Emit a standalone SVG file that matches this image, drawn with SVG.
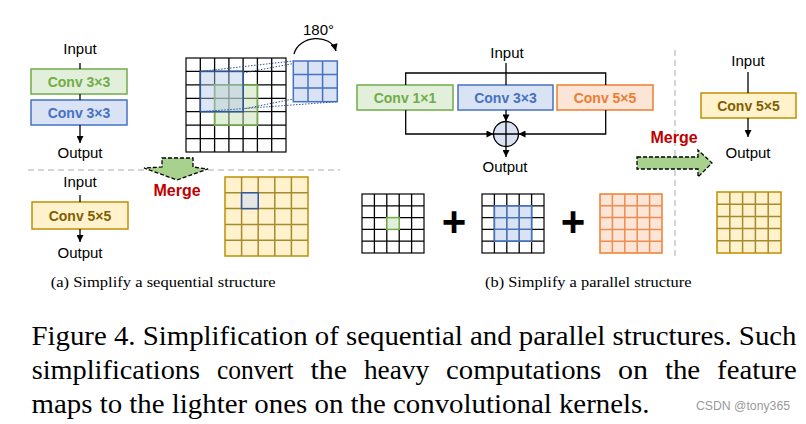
<svg xmlns="http://www.w3.org/2000/svg" width="806" height="424" viewBox="0 0 806 424">
<style>
.lbl{font-family:"Liberation Sans",Arial,sans-serif;font-size:15px;fill:#000;text-anchor:middle}
.conv{font-family:"Liberation Sans",Arial,sans-serif;font-size:14px;font-weight:bold;text-anchor:middle}
.merge{font-family:"Liberation Sans",Arial,sans-serif;font-size:16px;font-weight:bold;fill:#c00000;text-anchor:middle}
.cap{font-family:"Liberation Serif","Times New Roman",serif;font-size:15px;fill:#000}
.fig{font-family:"Liberation Serif","Times New Roman",serif;font-size:27px;fill:#000}
.ln{stroke:#000;stroke-width:1.3;fill:none}
.g{fill:#e2efda;stroke:#70ad47;stroke-width:1.5}
.b{fill:#dae3f3;stroke:#4472c4;stroke-width:1.5}
.o{fill:#fbe5d6;stroke:#ed7d31;stroke-width:1.5}
.y{fill:#fff2cc;stroke:#bf9000;stroke-width:1.5}
.gt{fill:#70ad47}.bt{fill:#4472c4}.ot{fill:#ed7d31}.yt{fill:#7f6000}
.sep{stroke:#c8c8c8;stroke-width:1.5;stroke-dasharray:6 4;fill:none}
.marr{fill:#a9d18e;stroke:#000;stroke-width:1.3;stroke-dasharray:4 2}
.grid{fill:#fff;stroke:#000;stroke-width:1.2}
</style>
<defs>
<marker id="ah" viewBox="0 0 10 10" refX="10" refY="5" markerWidth="8" markerHeight="7" markerUnits="userSpaceOnUse" orient="auto"><path d="M0,0 L10,5 L0,10 z" fill="#000"/></marker>
</defs>

<!-- separators -->
<g id="separators">
<line class="sep" x1="28" y1="170" x2="340" y2="170"/>
<line class="sep" x1="675" y1="50" x2="675" y2="257"/>
</g>

<!-- (a) sequential structure -->
<g id="a-input1"><text class="lbl" x="80" y="54">Input</text></g>
<g id="a-conv3-green"><rect class="g" x="31" y="69" width="96" height="25"/><text class="conv gt" x="79" y="86.5">Conv 3×3</text></g>
<g id="a-conv3-blue"><rect class="b" x="31" y="100" width="96" height="25"/><text class="conv bt" x="79" y="117.5">Conv 3×3</text></g>
<g id="a-output1"><text class="lbl" x="80" y="158">Output</text></g>
<g id="a-input2"><text class="lbl" x="80" y="187">Input</text></g>
<g id="a-conv5"><rect class="y" x="32" y="202" width="96" height="27"/><text class="conv yt" x="80" y="220.5">Conv 5×5</text></g>
<g id="a-output2"><text class="lbl" x="80" y="258">Output</text></g>

<g id="a-bigmap">
<rect class="grid" x="186" y="58" width="100" height="94"/>
<path class="ln" stroke-width="1.2" d="M200.3,58V152M214.6,58V152M228.9,58V152M243.1,58V152M257.4,58V152M271.7,58V152M186,71.4H286M186,84.9H286M186,98.3H286M186,111.7H286M186,125.1H286M186,138.6H286"/>
<rect x="214.6" y="84.9" width="42.9" height="40.3" fill="#c5e0b4" fill-opacity="0.5" stroke="#70ad47" stroke-width="1.5"/>
<rect x="200.3" y="71.4" width="42.9" height="40.3" fill="#b4c7e7" fill-opacity="0.45" stroke="#2f5597" stroke-width="1.6"/>
</g>
<g id="a-kernel">
<rect class="b" x="293.3" y="61" width="44" height="40.7"/>
<path d="M308,61V101.7M322.6,61V101.7M293.3,74.6H337.3M293.3,88.1H337.3" stroke="#4472c4" stroke-width="1.5" fill="none"/>
<path d="M200.3,71.4L293.3,61M243.2,73L293.3,63.5M200.3,111.7L337.3,101.7M243.2,109L293.3,99" stroke="#2f5597" stroke-width="1" stroke-dasharray="1.5 1.5" fill="none"/>
</g>
<g id="a-rotate">
<path class="ln" d="M294,54 C299,35 331,33 336,51" marker-end="url(#ah)"/>
<text class="lbl" x="318.5" y="35">180°</text>
</g>
<g id="a-merge">
<polygon class="marr" points="162,158 193,158 193,167 208,169 177,180 144,168 162,167"/>
<text class="merge" x="177" y="196">Merge</text>
</g>
<g id="a-mergedmap">
<rect class="y" x="225" y="177" width="83" height="79"/>
<path d="M241.6,177V256M258.2,177V256M274.8,177V256M291.4,177V256M225,192.8H308M225,208.6H308M225,224.4H308M225,240.2H308" stroke="#a88a2e" stroke-width="1.5" fill="none"/>
<rect x="241.6" y="192.8" width="16.6" height="15.8" fill="#e7e6e6" stroke="#2f5597" stroke-width="1.5"/>
</g>

<!-- (b) parallel structure -->
<g id="b-input"><text class="lbl" x="507" y="58">Input</text></g>
<g id="b-conv1"><rect class="g" x="357" y="85" width="96" height="25"/><text class="conv gt" x="405" y="102.5">Conv 1×1</text></g>
<g id="b-conv3"><rect class="b" x="458" y="85" width="95" height="25"/><text class="conv bt" x="505.5" y="102.5">Conv 3×3</text></g>
<g id="b-conv5"><rect class="o" x="557" y="85" width="96" height="25"/><text class="conv ot" x="605" y="102.5">Conv 5×5</text></g>
<g id="b-add">
<circle cx="506" cy="134" r="12.5" fill="#dae3f3" stroke="#000" stroke-width="1.3"/>
<path class="ln" d="M493.5,134H518.5M506,121.5V146.5"/>
</g>
<g id="b-output"><text class="lbl" x="505" y="172">Output</text></g>
<g id="b-map1">
<rect class="grid" x="362" y="194" width="62" height="59"/>
<path class="ln" stroke-width="1.2" d="M374.4,194V253M386.8,194V253M399.2,194V253M411.6,194V253M362,205.8H424M362,217.6H424M362,229.4H424M362,241.2H424"/>
<rect class="g" x="386.8" y="217.6" width="12.4" height="11.8"/>
</g>
<g id="b-plus1"><text x="454" y="236" font-family="Liberation Sans,Arial,sans-serif" font-size="42" font-weight="bold" text-anchor="middle">+</text></g>
<g id="b-map2">
<rect class="grid" x="482" y="194" width="62" height="59"/>
<path class="ln" stroke-width="1.2" d="M494.4,194V253M506.8,194V253M519.2,194V253M531.6,194V253M482,205.8H544M482,217.6H544M482,229.4H544M482,241.2H544"/>
<rect x="494.4" y="205.8" width="37.2" height="35.4" fill="#b4c7e7" fill-opacity="0.5" stroke="#4472c4" stroke-width="1.5"/>
<path d="M506.8,205.8V241.2M519.2,205.8V241.2M494.4,217.6H531.6M494.4,229.4H531.6" stroke="#4472c4" stroke-width="1.2" fill="none"/>
</g>
<g id="b-plus2"><text x="573" y="236" font-family="Liberation Sans,Arial,sans-serif" font-size="42" font-weight="bold" text-anchor="middle">+</text></g>
<g id="b-map3">
<rect class="o" x="600" y="194" width="62" height="59"/>
<path d="M612.4,194V253M624.8,194V253M637.2,194V253M649.6,194V253M600,205.8H662M600,217.6H662M600,229.4H662M600,241.2H662" stroke="#f08c50" stroke-width="1.5" fill="none"/>
</g>
<g id="b-merge">
<polygon class="marr" points="637,157 698,157 698,150 712,163 698,177 698,169 637,169"/>
<text class="merge" x="674" y="142.5">Merge</text>
</g>
<g id="b-input2"><text class="lbl" x="748" y="66">Input</text></g>
<g id="b-conv5-merged"><rect class="y" x="701" y="93" width="95" height="25"/><text class="conv yt" x="748.5" y="110.5">Conv 5×5</text></g>
<g id="b-output2"><text class="lbl" x="748" y="158">Output</text></g>
<g id="b-mergedmap">
<rect class="y" x="717" y="192" width="64" height="61"/>
<path d="M729.8,192V253M742.6,192V253M755.4,192V253M768.2,192V253M717,204.2H781M717,216.4H781M717,228.6H781M717,240.8H781" stroke="#a88a2e" stroke-width="1.5" fill="none"/>
</g>

<!-- connectors -->
<g id="connectors">
<path class="ln" d="M80,63V69"/>
<path class="ln" d="M80,94V100"/>
<path class="ln" d="M80,125V143" marker-end="url(#ah)"/>
<path class="ln" d="M80,195V202"/>
<path class="ln" d="M80,229V242" marker-end="url(#ah)"/>
<path class="ln" d="M506,63V85"/>
<path class="ln" d="M405.7,85V73H605.7V85"/>
<path class="ln" d="M405.7,110V134H493.5" marker-end="url(#ah)"/>
<path class="ln" d="M506,110V121.5" marker-end="url(#ah)"/>
<path class="ln" d="M605.7,110V134H518.5" marker-end="url(#ah)"/>
<path class="ln" d="M506,146.5V157" marker-end="url(#ah)"/>
<path class="ln" d="M748,72V93"/>
<path class="ln" d="M748,118V137" marker-end="url(#ah)"/>
</g>

<!-- captions -->
<g id="captions">
<text class="cap" x="50.7" y="287" textLength="225" lengthAdjust="spacingAndGlyphs">(a) Simplify a sequential structure</text>
<text class="cap" x="485" y="287" textLength="206.5" lengthAdjust="spacingAndGlyphs">(b) Simplify a parallel structure</text>
<text class="fig" x="31.5" y="344.5" textLength="765" lengthAdjust="spacingAndGlyphs">Figure 4. Simplification of sequential and parallel structures. Such</text>
<g id="caption-line2">
<text class="fig" x="31.7" y="379" textLength="168.3" lengthAdjust="spacingAndGlyphs">simplifications</text>
<text class="fig" x="216.9" y="379" textLength="76.6" lengthAdjust="spacingAndGlyphs">convert</text>
<text class="fig" x="310.4" y="379" textLength="36.6" lengthAdjust="spacingAndGlyphs">the</text>
<text class="fig" x="363.9" y="379" textLength="65.3" lengthAdjust="spacingAndGlyphs">heavy</text>
<text class="fig" x="446.1" y="379" textLength="155" lengthAdjust="spacingAndGlyphs">computations</text>
<text class="fig" x="618" y="379" textLength="30" lengthAdjust="spacingAndGlyphs">on</text>
<text class="fig" x="664.9" y="379" textLength="35.3" lengthAdjust="spacingAndGlyphs">the</text>
<text class="fig" x="717.1" y="379" textLength="79.7" lengthAdjust="spacingAndGlyphs">feature</text>
</g>
<text class="fig" x="31.5" y="413" textLength="618" lengthAdjust="spacingAndGlyphs">maps to the lighter ones on the convolutional kernels.</text>
<text x="696" y="410" font-family="Liberation Sans,Arial,sans-serif" font-size="12.5" fill="#9a9a9a" textLength="94" lengthAdjust="spacingAndGlyphs">CSDN @tony365</text>
</g>
</svg>
